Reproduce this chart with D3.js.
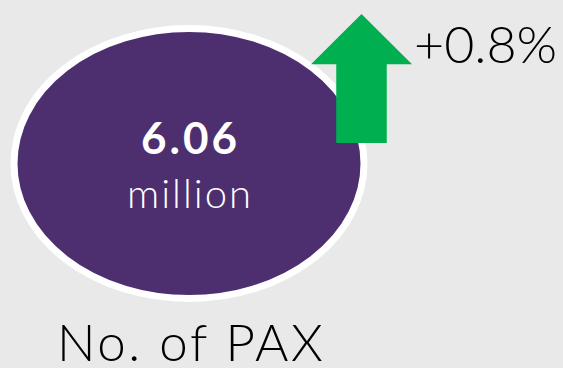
<!DOCTYPE html>
<html>
<head>
<meta charset="utf-8">
<script src="https://cdn.jsdelivr.net/npm/d3@7"></script>
<style>
  html, body { margin: 0; padding: 0; background: #e9e9e9; }
  svg { display: block; }
</style>
</head>
<body>
<div id="chart"></div>
<script>
const width = 563;
const height = 368;

// KPI values
const metricLabels = ["No. of PAX"];
const metricValues = [6.06];
const metricUnits = ["million"];
const changeValues = [0.8];

const fontFamily = "Lato, 'Open Sans', sans-serif";

const svg = d3.select("#chart").append("svg")
    .attr("width", width)
    .attr("height", height);

svg.append("rect")
    .attr("width", width)
    .attr("height", height)
    .attr("fill", "#e9e9e9");

// bubble
const bubble = { cx: 189, cy: 163.5, rx: 175, ry: 135 };

svg.append("ellipse")
    .attr("cx", bubble.cx)
    .attr("cy", bubble.cy)
    .attr("rx", bubble.rx)
    .attr("ry", bubble.ry)
    .attr("fill", "#4d2f70")
    .attr("stroke", "#ffffff")
    .attr("stroke-width", 7);

svg.append("text")
    .attr("x", bubble.cx + 1.5)
    .attr("y", 154)
    .attr("text-anchor", "middle")
    .style("font-family", fontFamily)
    .style("font-size", "44px")
    .style("font-weight", "bold")
    .style("letter-spacing", "3px")
    .style("fill", "#ffffff")
    .text(d3.format(".2f")(metricValues[0]));

svg.append("text")
    .attr("x", bubble.cx + 1)
    .attr("y", 208)
    .attr("text-anchor", "middle")
    .style("font-family", fontFamily)
    .style("font-size", "40px")
    .style("font-weight", "300")
    .style("letter-spacing", "2px")
    .style("fill", "#ffffff")
    .text(metricUnits[0]);

// up arrow, drawn in a unit box mapped by scales
const ax = d3.scaleLinear().domain([0, 1]).range([311, 412]);
const ay = d3.scaleLinear().domain([0, 1]).range([14, 143]);
const arrowShape = [
    [0.5, 0], [1, 0.39], [0.75, 0.39], [0.75, 1],
    [0.25, 1], [0.25, 0.39], [0, 0.39]
];
svg.append("path")
    .attr("d", d3.line().x(d => ax(d[0])).y(d => ay(d[1]))(arrowShape) + "Z")
    .attr("fill", "#00b050");

svg.append("text")
    .attr("x", 414)
    .attr("y", 63)
    .style("font-family", fontFamily)
    .style("font-size", "52px")
    .style("font-weight", "300")
    .style("fill", "#000000")
    .text(`${changeValues[0] >= 0 ? "+" : ""}${d3.format(".1f")(changeValues[0])}%`);

svg.append("text")
    .attr("x", 57)
    .attr("y", 361)
    .style("font-family", fontFamily)
    .style("font-size", "51px")
    .style("font-weight", "300")
    .style("letter-spacing", "2.6px")
    .style("fill", "#000000")
    .text(metricLabels[0]);
</script>
</body>
</html>
